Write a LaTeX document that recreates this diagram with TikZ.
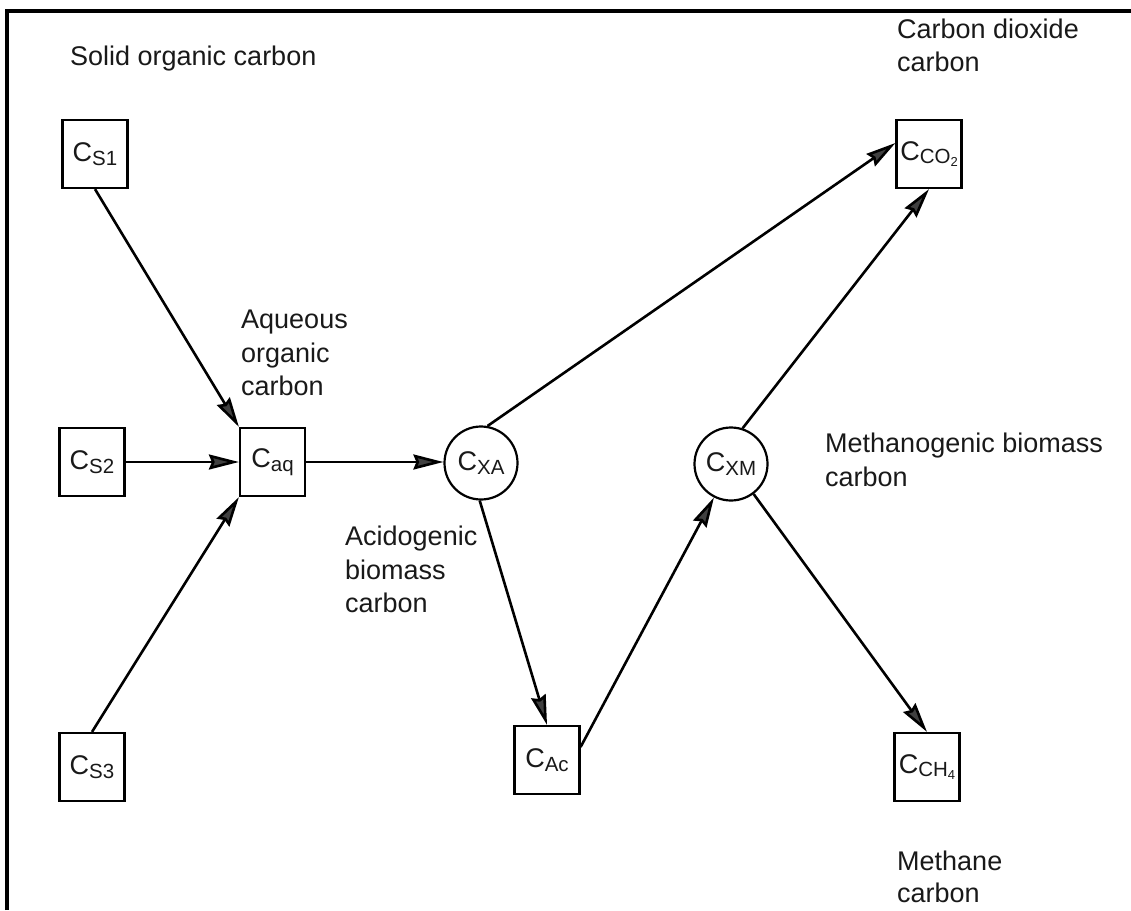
\documentclass[tikz,border=0pt]{standalone}
\usepackage{fontspec}
\setmainfont{Liberation Sans}
\usetikzlibrary{arrows.meta}
\newcommand{\sbs}[1]{\raisebox{-3.5pt}{\fontsize{20.5pt}{20pt}\selectfont #1}}
\newcommand{\ssbs}[1]{\raisebox{-2.5pt}{\fontsize{13pt}{13pt}\selectfont #1}}
\begin{document}
\begin{tikzpicture}[x=1pt,y=-1pt,
  lbl/.style={anchor=base west, inner sep=0pt, font=\fontsize{27pt}{34pt}\selectfont, text=black!90},
  boxnode/.style={draw, line width=2.2pt, minimum width=65pt, minimum height=68pt, inner sep=0pt, font=\fontsize{27pt}{34pt}\selectfont, text=black!90},
  circnode/.style={draw, circle, line width=2.2pt, minimum size=73pt, inner sep=0pt, font=\fontsize{27pt}{34pt}\selectfont, text=black!90},
  arr/.style={line width=2.6pt, -{Stealth[length=30pt,width=15pt,inset=3pt,fill=black!75]}},
]
\useasboundingbox (0,0) rectangle (1131,910);
% frame
\draw[line width=4pt] (6.5,910) -- (6.5,11) -- (1131,11);

% nodes
\node[boxnode] (s1) at (95,154) {C\sbs{S1}};
\node[boxnode] (s2) at (92,462) {C\sbs{S2}};
\node[boxnode] (s3) at (92,767) {C\sbs{S3}};
\node[boxnode] (aq) at (272.5,462) {C\sbs{aq}};
\node[circnode] (xa) at (481,463) {C\sbs{XA}};
\node[circnode] (xm) at (731,464) {C\sbs{XM}};
\node[boxnode] (ac) at (547,760) {C\sbs{Ac}};
\node[boxnode] (co2) at (929,154) {C\sbs{CO\ssbs{2}}};
\node[boxnode] (ch4) at (927,767) {C\sbs{CH\ssbs{4}}};

% labels
\node[lbl] (l1) at (70,65) {Solid organic carbon};
\node[lbl] (l2a) at (897,38) {Carbon dioxide};
\node[lbl] (l2b) at (897,71) {carbon};
\node[lbl] (l3a) at (241,328) {Aqueous};
\node[lbl] (l3b) at (241,362) {organic};
\node[lbl] (l3c) at (241,395) {carbon};
\node[lbl] (l4a) at (345,545) {Acidogenic};
\node[lbl] (l4b) at (345,579) {biomass};
\node[lbl] (l4c) at (345,612) {carbon};
\node[lbl] (l5a) at (825,452) {Methanogenic biomass};
\node[lbl] (l5b) at (825,486) {carbon};
\node[lbl] (l6a) at (897,870) {Methane};
\node[lbl] (l6b) at (897,902) {carbon};

% connectors
\draw[arr] (s1.south) -- (aq.north west);
\draw[arr] (s2.east) -- (aq.west);
\draw[arr] (s3.north) -- (aq.south west);
\draw[arr] (aq.east) -- (aq.east -| xa.west);
\draw[arr] (xa.80) -- ([yshift=11pt]co2.west);
\draw[arr] (xm.72) -- (co2.south);
\draw[arr] (xa.-92) -- (ac.north);
\draw[arr] ([yshift=13pt]ac.east) -- (xm.-117);
\draw[arr] (xm.-53) -- (ch4.north);
\end{tikzpicture}
\end{document}
